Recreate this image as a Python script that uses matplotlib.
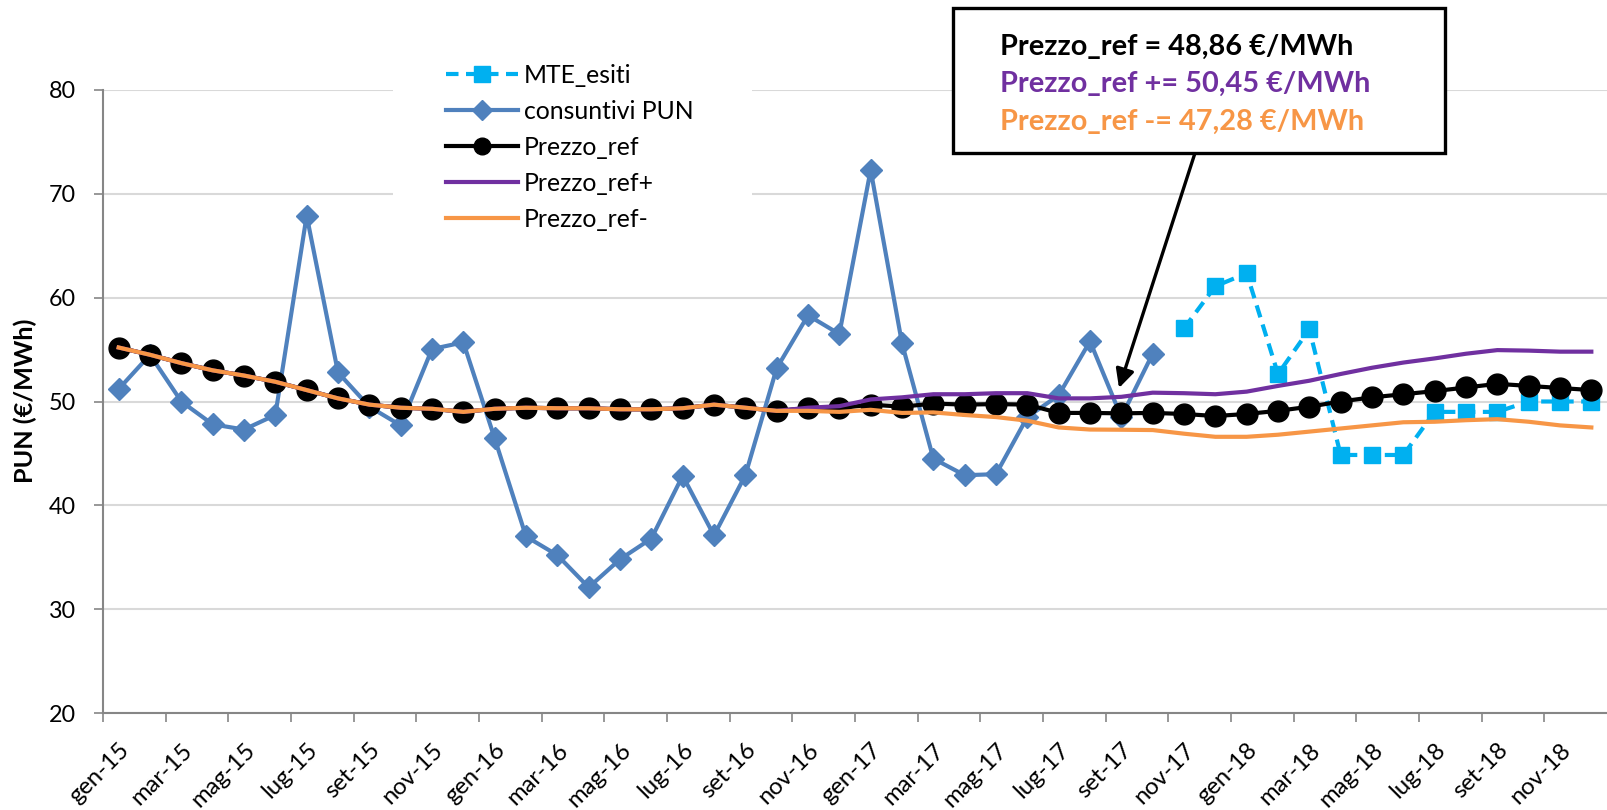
import numpy as np
import matplotlib
matplotlib.use("Agg")
import matplotlib.pyplot as plt
from matplotlib.lines import Line2D
from matplotlib.patches import Rectangle

plt.rcParams['font.family'] = ['Lato', 'DejaVu Sans']

# Months gen-15 .. dic-18
month_names = ['gen', 'feb', 'mar', 'apr', 'mag', 'giu', 'lug', 'ago', 'set', 'ott', 'nov', 'dic']
years = ['15', '16', '17', '18']
labels = [f"{m}-{y}" for y in years for m in month_names]

nan = np.nan

# consuntivi PUN (gen-15 .. ott-17)
pun = [51.2, 54.5, 50.0, 47.8, 47.3, 48.7, 67.9, 52.8, 49.5, 47.7,
       55.05, 55.7, 46.45, 37.0, 35.2, 32.1, 34.8, 36.8, 42.85, 37.1, 42.9, 53.2,
       58.3, 56.5, 72.3, 55.6, 44.5, 42.9, 43.0, 48.5, 50.6, 55.8, 48.5, 54.6] + [nan] * 14

# MTE_esiti (nov-17 .. dic-18)
mte = [nan] * 34 + [57.05, 61.1, 62.35, 52.65, 56.95, 44.85, 44.85, 44.85,
                    49.0, 49.0, 49.0, 50.0, 50.0, 50.0]

prezzo_ref = [55.2, 54.5, 53.7, 53.0, 52.5, 51.9, 51.1, 50.3, 49.7, 49.4,
              49.3, 49.0, 49.3, 49.4, 49.35, 49.35, 49.25, 49.25, 49.35, 49.7, 49.4, 49.1,
              49.35, 49.35, 49.7, 49.5, 49.8, 49.7, 49.75, 49.7, 48.9, 48.9, 48.86, 48.9,
              48.8, 48.6, 48.8, 49.1, 49.5, 50.0, 50.4, 50.7, 51.0, 51.35, 51.7, 51.5, 51.3, 51.1]

prezzo_ref_plus = prezzo_ref[:22] + [49.4, 49.55, 50.2, 50.4, 50.7, 50.7, 50.8, 50.8, 50.3, 50.3, 50.45, 50.85,
                                     50.8, 50.7, 50.95, 51.5, 52.0, 52.65, 53.25, 53.75, 54.15, 54.6, 54.95, 54.9, 54.8, 54.8]

prezzo_ref_minus = prezzo_ref[:22] + [49.1, 49.0, 49.2, 48.9, 48.95, 48.7, 48.5, 48.15, 47.5, 47.3, 47.28, 47.25,
                                      46.9, 46.6, 46.6, 46.8, 47.1, 47.4, 47.7, 48.0, 48.05, 48.2, 48.3, 48.05, 47.7, 47.5]

# colors
c_mte = '#00B0F0'
c_pun = '#4F81BD'
c_plus = '#7030A0'
c_minus = '#F79646'
c_grid = '#D9D9D9'
c_axis = '#868686'

W, H = 1607, 810
fig = plt.figure(figsize=(W / 100, H / 100), dpi=100)
renderer = fig.canvas.get_renderer()


def fit_size(s, target_px, weight='normal', rotation=0, along='width', size=20.0):
    # font size that gives the text a given pixel extent
    t = fig.text(0, 0, s, fontsize=size, fontweight=weight, rotation=rotation)
    bb = t.get_window_extent(renderer)
    t.remove()
    ext = bb.width if along == 'width' else bb.height
    return size * target_px / ext


fs_xtick = fit_size('gen-15', 69, rotation=45)
fs_ytick = fit_size('20', 27)
fs_ylab = fit_size('PUN (€/MWh)', 165, weight='bold')
fs_leg = fit_size('consuntivi PUN', 170)
fs_box = fit_size('Prezzo_ref = 48,86 €/MWh', 352, weight='bold')

ax = fig.add_axes([103 / W, 1 - 713 / H, 1 - 103 / W, (713 - 90) / H])

x = np.arange(len(labels))

ax.plot(x, mte, color=c_mte, lw=3, ls=(0, (3, 1.8)), marker='s', ms=12,
        mfc=c_mte, mec=c_mte, zorder=3, label='MTE_esiti')
ax.plot(x, pun, color=c_pun, lw=3, marker='D', ms=11, mfc=c_pun, mec=c_pun,
        zorder=4, label='consuntivi PUN')
ax.plot(x, prezzo_ref, color='black', lw=3, marker='o', ms=15, zorder=5, label='Prezzo_ref')
ax.plot(x, prezzo_ref_plus, color=c_plus, lw=3, zorder=6, label='Prezzo_ref+')
ax.plot(x, prezzo_ref_minus, color=c_minus, lw=3, zorder=7, label='Prezzo_ref-')

ax.set_xlim(-0.5, len(labels) - 0.5)
ax.set_ylim(20, 80)
ax.set_yticks(range(20, 81, 10))
ax.set_axisbelow(True)
ax.grid(axis='y', color=c_grid, lw=1.5)

# ticks between months (every 2), labels centred on the months
ax.set_xticks(np.arange(-0.5, len(labels) - 0.5, 2))
ax.set_xticklabels([])
ax.set_xticks(x[::2], minor=True)
ax.set_xticklabels(labels[::2], minor=True, rotation=45, ha='right', va='top',
                   rotation_mode='anchor', fontsize=fs_xtick)
ax.tick_params(axis='x', which='minor', length=0, pad=19)
ax.tick_params(axis='x', which='major', length=6.5, color=c_axis, width=1.2)
ax.tick_params(axis='y', length=6.5, color=c_axis, width=1.2, labelsize=fs_ytick, pad=13)

for s in ['top', 'right']:
    ax.spines[s].set_visible(False)
for s in ['left', 'bottom']:
    ax.spines[s].set_color(c_axis)
    ax.spines[s].set_linewidth(1.5)

fig.text(25 / W, 1 - 401 / H, 'PUN (€/MWh)', rotation=90, ha='center', va='center',
         fontsize=fs_ylab, fontweight='bold')

# white area behind legend (hides gridlines)
ax.add_patch(Rectangle((393 / W, 1 - 232 / H), (752 - 393) / W, 182 / H,
                       transform=fig.transFigure, facecolor='white', edgecolor='none',
                       clip_on=False, zorder=1))

handles = [
    Line2D([0], [0], color=c_mte, lw=3, ls=(0, (3, 1.8)), marker='s', ms=12, mfc=c_mte, mec=c_mte),
    Line2D([0], [0], color=c_pun, lw=3, marker='D', ms=10, mfc=c_pun, mec=c_pun),
    Line2D([0], [0], color='black', lw=3, marker='o', ms=12),
    Line2D([0], [0], color=c_plus, lw=3),
    Line2D([0], [0], color=c_minus, lw=3),
]
leg = fig.legend(handles, ['MTE_esiti', 'consuntivi PUN', 'Prezzo_ref', 'Prezzo_ref+', 'Prezzo_ref-'],
                 loc='upper left', bbox_to_anchor=(436 / W, 1 - 54 / H), frameon=False,
                 fontsize=fs_leg, handlelength=52 / fs_leg, handletextpad=4 / fs_leg,
                 labelspacing=9.3 / fs_leg, borderaxespad=0)

# annotation box
fig.patches.append(Rectangle((953 / W, 1 - 153 / H), (1445 - 953) / W, (153 - 8) / H,
                             transform=fig.transFigure, facecolor='white', edgecolor='black',
                             lw=2.4, zorder=10))
fig.text(1000 / W, 1 - 47 / H, 'Prezzo_ref = 48,86 €/MWh', color='black',
         fontsize=fs_box, fontweight='bold', va='center', zorder=11)
fig.text(1000 / W, 1 - 84 / H, 'Prezzo_ref += 50,45 €/MWh', color=c_plus,
         fontsize=fs_box, fontweight='bold', va='center', zorder=11)
fig.text(1000 / W, 1 - 122 / H, 'Prezzo_ref -= 47,28 €/MWh', color=c_minus,
         fontsize=fs_box, fontweight='bold', va='center', zorder=11)

ax.annotate('', xy=(1119 / W, 1 - 388 / H), xycoords='figure fraction',
            xytext=(1195 / W, 1 - 153 / H), textcoords='figure fraction',
            arrowprops=dict(arrowstyle='-|>', color='black', lw=2.4, mutation_scale=28,
                            shrinkA=0, shrinkB=0), zorder=12)

fig.savefig('out.png', dpi=100)
